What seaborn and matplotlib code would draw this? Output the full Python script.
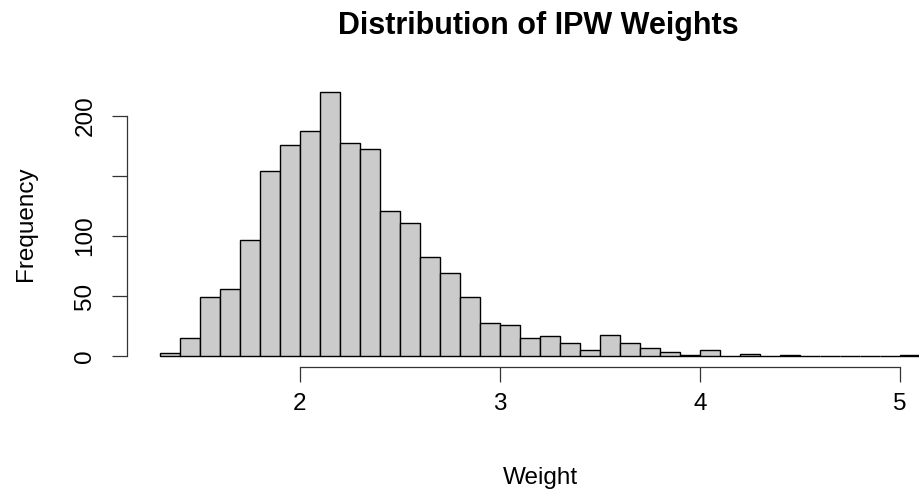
import numpy as np
import pandas as pd
import matplotlib
matplotlib.use("Agg")
import matplotlib.pyplot as plt
import seaborn as sns

# ---- data ----
bin_edges = [1.3, 1.4, 1.5, 1.6, 1.7, 1.8, 1.9, 2.0, 2.1, 2.2, 2.3, 2.4, 2.5,
             2.6, 2.7, 2.8, 2.9, 3.0, 3.1, 3.2, 3.3, 3.4, 3.5, 3.6, 3.7, 3.8,
             3.9, 4.0, 4.1, 4.2, 4.3, 4.4, 4.5, 4.6, 4.7, 4.8, 4.9, 5.0, 5.1]
counts = [3, 15, 49, 56, 97, 154, 176, 187, 220, 177, 172, 121, 111,
          83, 69, 49, 28, 26, 15, 17, 11, 5, 18, 11, 7, 4,
          1, 5, 0, 2, 0, 1, 0, 0, 0, 0, 0, 1]
x_ticks = [2, 3, 4, 5]
y_ticks = [0, 50, 100, 150, 200]
y_tick_labels = ["0", "50", "100", "", "200"]
title = "Distribution of IPW Weights"
x_label = "Weight"
y_label = "Frequency"

sns.set_style("white")
plt.rcParams["font.family"] = ["Liberation Sans", "DejaVu Sans"]
plt.rcParams["text.color"] = "black"
plt.rcParams["axes.labelcolor"] = "black"

df = pd.DataFrame({
    "weight": [(bin_edges[i] + bin_edges[i + 1]) / 2 for i in range(len(counts))],
    "count": counts,
})

W, H = 919, 491
fig = plt.figure(figsize=(W / 100, H / 100), dpi=100)
ax = fig.add_axes([127 / W, (H - 367) / H, 823 / W, 286 / H])

sns.histplot(data=df, x="weight", weights="count", bins=bin_edges,
             color="#CBCBCB", edgecolor="black", linewidth=1.0, alpha=1,
             ax=ax)

ax.set_xlim(1.135, 5.25)
ax.set_ylim(-8.8, 228.8)

for s in ["top", "right"]:
    ax.spines[s].set_visible(False)
ax.spines["left"].set_bounds(0, 200)
ax.spines["bottom"].set_bounds(2, 5)
for s in ["left", "bottom"]:
    ax.spines[s].set_color("#333333")
    ax.spines[s].set_linewidth(0.9)

ax.set_xticks(x_ticks)
ax.set_xticklabels([str(t) for t in x_ticks])
ax.set_yticks(y_ticks)
ax.set_yticklabels(y_tick_labels, rotation=90, va="center")
ax.tick_params(axis="both", bottom=True, left=True, direction="out",
               length=11, width=0.9, color="#333333",
               labelsize=17.5, labelcolor="black")
ax.tick_params(axis="x", pad=8)
ax.tick_params(axis="y", pad=11)

ax.set_title(title, fontsize=22, fontweight="bold", pad=34, color="black")

ax.set_xlabel(x_label, fontsize=17.5, color="black")
ax.xaxis.label.set_va("baseline")
ax.xaxis.set_label_coords((540 - 127) / 823, -(484 - 367) / 286)

ax.set_ylabel(y_label, fontsize=17.5, color="black")
ax.yaxis.label.set_va("baseline")
ax.yaxis.set_label_coords((32 - 127) / 823, 0.5)

fig.savefig("out.png", dpi=100)
